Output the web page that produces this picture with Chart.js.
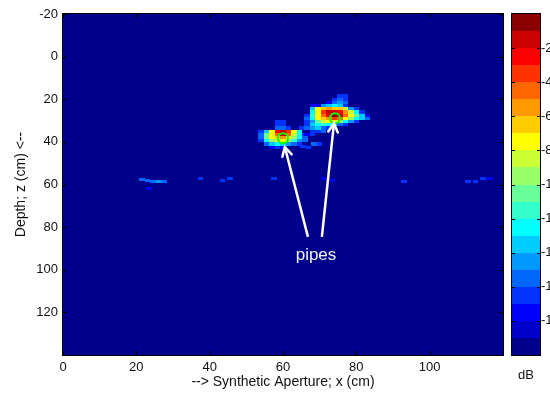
<!DOCTYPE html>
<html><head><meta charset="utf-8">
<script src="https://cdn.jsdelivr.net/npm/chart.js@4.4.1/dist/chart.umd.min.js"></script>
<style>html,body{margin:0;padding:0;background:#fff;}canvas{display:block;}</style>
</head><body>
<canvas id="c" width="550" height="393"></canvas>
<script>
// ---------------- data ----------------
const xTicks = [0, 20, 40, 60, 80, 100];
const zTicks = [-20, 0, 20, 40, 60, 80, 100, 120];
const dbTicks = [-2, -4, -6, -8, -10, -12, -14, -16, -18];
const dbLevels = [0, -1, -2, -3, -4, -5, -6, -7, -8, -9, -10, -11, -12, -13, -14, -15, -16, -17, -18, -19];
const N = null;

// image around pipe 1: column x (cm), row z (cm), values in dB
const pipe1Cols = [54, 55.5, 57, 58.5, 60, 61.5, 63, 64.5, 66];
const pipe1Rows = [30.5, 32, 33.5, 35, 36.5, 38, 39.5, 41, 42.5];
const pipe1Db = [
  [N, N, N, -16, -16.5, N, N, N, N],
  [N, N, N, -16.5, -16, N, N, N, N],
  [N, N, N, -15.5, -15, -16, N, N, N],
  [-16, -13, -7, -2.5, -1.5, -3, -7, -12, N],
  [-15.5, -10, -7, -4, -1, -4.5, -8.5, -12.5, -16],
  [-15, -10.5, -7.5, -6.5, -5, -7, -9.5, -12, -15.5],
  [-16, -12, -9, -8, -7.5, -9, -11.5, -14, -15.5],
  [N, -15, -13, -12.5, -13, -14, -15.5, -16, N],
  [N, N, -17, -16.5, -17, N, N, N, N]
];

// image around pipe 2
const pipe2Cols = [65, 66.5, 68, 69.5, 71, 72.5, 74, 75.5, 77, 78.5, 80, 81.5, 83];
const pipe2Rows = [18.5, 20, 21.5, 23, 24.5, 26, 27.5, 29, 30.5, 32, 33.5, 35, 36.5];
const pipe2Db = [
  [N, N, N, N, N, N, N, -16, -16.5, N, N, N, N],
  [N, N, N, N, N, N, -16, -15.5, -16, N, N, N, N],
  [N, N, N, N, N, -17, -15, -14, -15.5, N, N, N, N],
  [N, N, -17, -17.5, -14, -13, -12.5, -13.5, -16, N, N, N, N],
  [N, N, -13.5, -7, -6, -5.5, -6, -6.5, -8, -14.5, -16.5, N, N],
  [N, N, -12, -7.5, -3.5, -1.5, -1, -2, -5, -8.5, -12.5, -16, N],
  [N, -16, -11.5, -7, -4, -2, -0.5, -1.5, -4, -7.5, -10.5, -13, -17],
  [N, -15, -12, -7.5, -6.5, -5, -3, -4, -7, -9.5, -12.5, -13.5, -15.5],
  [N, -16.5, -14, -10, -8, -7, -7.5, -9, -12, -14.5, -16, N, N],
  [N, -16, -13.5, -12.5, -11.5, -12.5, -14.5, -15, -16.5, N, N, N, N],
  [-16.5, -15.5, -14, -13, -15.5, -16.5, N, N, N, N, N, N, N],
  [N, N, -16, -16.5, -15.5, N, N, N, N, N, N, N, N],
  [N, -17, -16.5, N, N, N, N, N, N, N, N, N, N]
];

// weak scattered returns (clutter)
const clutterX  = [65.5, 67, 68.5, 70, 21.5, 23, 24.5, 26, 27.5, 23.5, 37.5, 43.5, 45.5, 57.5, 71, 73.5, 93, 110.5, 112.5, 114.5, 116.5];
const clutterZ  = [42, 42.5, 41, 41, 57.5, 58, 58.5, 58.5, 58.5, 62, 57.3, 58, 57, 57, 57, 58, 58.5, 58.5, 58.5, 57, 57];
const clutterDb = [-16, -16.5, -15.5, -16, -15.5, -15.5, -15, -14.5, -15, -17, -16.5, -16.5, -16.5, -16, -17.5, -17.5, -16.5, -16.5, -16.5, -16.5, -17];

// detected pipe positions (green circles)
const pipeX = [60, 74.2];
const pipeZ = [38.3, 28.9];

// annotation arrows
const arrowTailX = [66.8, 70.6];
const arrowTailZ = [84.6, 84.6];
const arrowTipX  = [60.5, 73.9];
const arrowTipZ  = [42.4, 31.3];
const noteText = 'pipes';
const noteX = 69, noteZ = 93;

// ---------------- styles ----------------
const jet = ['rgb(0,0,140)','rgb(0,0,204)','rgb(0,0,255)','rgb(0,51,255)','rgb(0,102,255)','rgb(0,153,255)',
  'rgb(0,204,255)','rgb(0,255,255)','rgb(51,255,204)','rgb(102,255,153)','rgb(153,255,102)','rgb(204,255,51)',
  'rgb(255,255,0)','rgb(255,204,0)','rgb(255,153,0)','rgb(255,102,0)','rgb(255,51,0)','rgb(255,0,0)',
  'rgb(204,0,0)','rgb(140,0,0)'];
function colorFor(v) {
  const k = Math.min(19, Math.max(0, Math.floor(-v)));
  return jet[19 - k];
}
const CELL_W = 1.5, CELL_H = 1.5;

// build cells
const cells = [];
function addGrid(cols, rows, vals) {
  rows.forEach((z, j) => cols.forEach((x, i) => {
    const v = vals[j][i];
    if (v !== null) cells.push({x: x, y: z, v: v});
  }));
}
addGrid(pipe1Cols, pipe1Rows, pipe1Db);
addGrid(pipe2Cols, pipe2Rows, pipe2Db);
clutterX.forEach((x, i) => cells.push({x: x, y: clutterZ[i], v: clutterDb[i]}));

const FONT = "'Liberation Sans', Arial, Helvetica, sans-serif";
Chart.defaults.font.family = FONT;
Chart.defaults.font.size = 13;
Chart.defaults.color = '#111';

const imagePlugin = {
  id: 'imagePlugin',
  beforeDatasetsDraw(chart) {
    const {ctx, chartArea: a, scales: {x, y}} = chart;
    ctx.save();
    ctx.fillStyle = jet[0];
    ctx.fillRect(a.left, a.top, a.right - a.left, a.bottom - a.top);
    ctx.beginPath(); ctx.rect(a.left, a.top, a.right - a.left, a.bottom - a.top); ctx.clip();
    chart.data.datasets[0].data.forEach(c => {
      const x0 = Math.round(x.getPixelForValue(c.x - CELL_W / 2));
      const x1 = Math.round(x.getPixelForValue(c.x + CELL_W / 2));
      const y0 = Math.round(y.getPixelForValue(c.y - CELL_H / 2));
      const y1 = Math.round(y.getPixelForValue(c.y + CELL_H / 2));
      ctx.fillStyle = colorFor(c.v);
      ctx.fillRect(x0, Math.min(y0, y1), x1 - x0, Math.abs(y1 - y0));
    });
    ctx.restore();
  },
  afterDatasetsDraw(chart) {
    const {ctx, chartArea: a, scales: {x, y, cb}} = chart;
    ctx.save();
    // arrow heads
    ctx.strokeStyle = '#fff'; ctx.lineWidth = 2.5; ctx.lineCap = 'round';
    arrowTipX.forEach((tx, i) => {
      const px = x.getPixelForValue(tx), py = y.getPixelForValue(arrowTipZ[i]);
      const qx = x.getPixelForValue(arrowTailX[i]), qy = y.getPixelForValue(arrowTailZ[i]);
      const ang = Math.atan2(qy - py, qx - px);
      const L = 10, w = 0.5;
      ctx.beginPath();
      ctx.moveTo(px + L * Math.cos(ang + w), py + L * Math.sin(ang + w));
      ctx.lineTo(px, py);
      ctx.lineTo(px + L * Math.cos(ang - w), py + L * Math.sin(ang - w));
      ctx.stroke();
    });
    // note text
    ctx.fillStyle = '#f2f2f2';
    ctx.font = '17px ' + FONT;
    ctx.textAlign = 'center'; ctx.textBaseline = 'middle';
    ctx.fillText(noteText, x.getPixelForValue(noteX), y.getPixelForValue(noteZ));
    // inner ticks
    ctx.strokeStyle = '#000'; ctx.lineWidth = 1; ctx.lineCap = 'butt';
    ctx.beginPath();
    xTicks.forEach(v => {
      const p = Math.round(x.getPixelForValue(v)) + 0.5;
      ctx.moveTo(p, a.bottom); ctx.lineTo(p, a.bottom - 4);
      ctx.moveTo(p, a.top); ctx.lineTo(p, a.top + 4);
    });
    zTicks.forEach(v => {
      const p = Math.round(y.getPixelForValue(v)) + 0.5;
      ctx.moveTo(a.left, p); ctx.lineTo(a.left + 4, p);
      ctx.moveTo(a.right, p); ctx.lineTo(a.right - 4, p);
    });
    ctx.stroke();
    // frame
    ctx.strokeStyle = '#000';
    ctx.strokeRect(Math.round(a.left) - 0.5, Math.round(a.top) - 0.5, Math.round(a.right - a.left) + 1, Math.round(a.bottom - a.top) + 1);
    // colour bar
    const bl = a.right + 9, br = a.right + 37;
    dbLevels.forEach(v => {
      const t = Math.round(cb.getPixelForValue(v)), b = Math.round(cb.getPixelForValue(v - 1));
      ctx.fillStyle = colorFor(v - 0.5);
      ctx.fillRect(bl, t, br - bl, b - t);
    });
    ctx.beginPath();
    dbTicks.forEach(v => {
      const p = Math.round(cb.getPixelForValue(v)) + 0.5;
      ctx.moveTo(bl, p); ctx.lineTo(bl + 3, p);
      ctx.moveTo(br, p); ctx.lineTo(br - 3, p);
    });
    ctx.stroke();
    const ct = Math.round(cb.getPixelForValue(0)), cbt = Math.round(cb.getPixelForValue(-20));
    ctx.strokeRect(bl - 0.5, ct - 0.5, br - bl + 1, cbt - ct + 1);
    ctx.fillStyle = '#111';
    ctx.font = '13px ' + FONT;
    ctx.textAlign = 'center'; ctx.textBaseline = 'middle';
    ctx.fillText('dB', (bl + br) / 2, cbt + 20);
    ctx.restore();
  }
};

const arrowSets = arrowTipX.map((tx, i) => ({
  type: 'line',
  data: [{x: arrowTailX[i], y: arrowTailZ[i]}, {x: tx, y: arrowTipZ[i]}],
  borderColor: '#ffffff', borderWidth: 2.5, pointRadius: 0, fill: false, tension: 0
}));

new Chart(document.getElementById('c'), {
  type: 'scatter',
  data: {
    datasets: [
      {label: 'image', data: cells, pointRadius: 0, pointHoverRadius: 0},
      {label: 'pipes', data: pipeX.map((px, i) => ({x: px, y: pipeZ[i]})),
        pointStyle: 'circle', pointRadius: 5, borderColor: '#00ff00', borderWidth: 2,
        backgroundColor: 'rgba(0,0,0,0)'},
      ...arrowSets
    ]
  },
  options: {
    responsive: false, animation: false, events: [],
    layout: {padding: {top: 14, left: 0, right: 0, bottom: 0}, autoPadding: false},
    plugins: {legend: {display: false}, tooltip: {enabled: false}},
    scales: {
      x: {
        type: 'linear', position: 'bottom', min: 0, max: 120,
        afterBuildTicks: s => { s.ticks = xTicks.map(v => ({value: v})); },
        ticks: {padding: 5, color: '#111', autoSkip: false, maxRotation: 0},
        grid: {display: false, drawTicks: false}, border: {display: false},
        title: {display: true, text: '--> Synthetic Aperture; x (cm)', color: '#111', font: {size: 14}, padding: {top: 0, bottom: 2}},
        afterFit: s => { s.height = 38; }
      },
      y: {
        type: 'linear', position: 'left', reverse: true, min: -20, max: 140,
        afterBuildTicks: s => { s.ticks = zTicks.map(v => ({value: v})); },
        ticks: {padding: 5, color: '#111', autoSkip: false},
        grid: {display: false, drawTicks: false}, border: {display: false},
        title: {display: true, text: 'Depth; z (cm) <--', color: '#111', font: {size: 14}, padding: {top: 13, bottom: 0}},
        afterFit: s => { s.width = 63; }
      },
      cb: {
        type: 'linear', position: 'right', min: -20, max: 0,
        afterBuildTicks: s => { s.ticks = dbTicks.map(v => ({value: v})); },
        ticks: {padding: 2, color: '#111', autoSkip: false},
        grid: {display: false, drawTicks: true, tickLength: 36}, border: {display: false},
        afterFit: s => { s.width = 47; }
      }
    }
  },
  plugins: [imagePlugin]
});
</script>
</body></html>
